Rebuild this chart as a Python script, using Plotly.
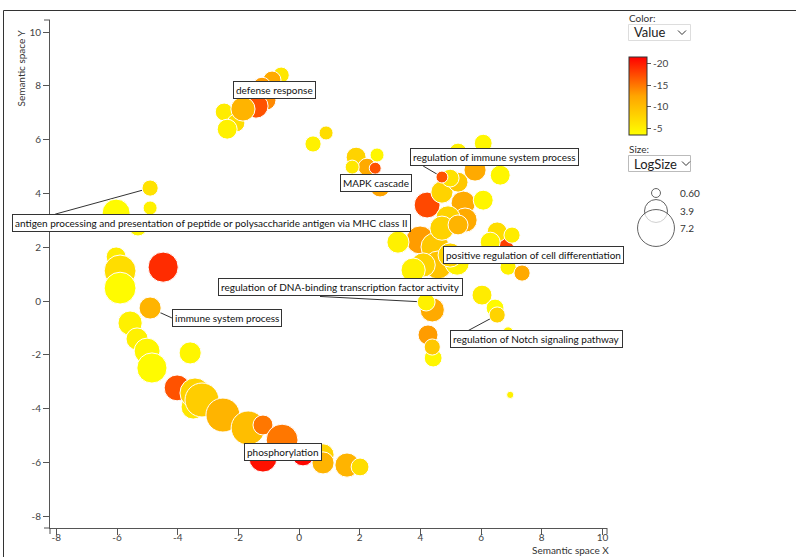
import plotly.graph_objects as go

# ---- GO term bubbles, listed in drawing order ----
# semantic space coordinates, log10 p-value and log size per term
term_x = [-0.59, -0.89, -1.22, -1.09, -1.42, -2.47, -2.08, -2.37, -1.85,
          0.46, 0.89,
          1.88, 2.67, 2.24, 2.57, 1.75, 2.51,
          3.99, 4.48, 4.58, 4.22, 5.41, 5.47, 4.91, 4.09, 5.21, 3.76, 4.98, 4.71,
          6.69, 4.39, 5.80, 4.71, 3.26, 6.63, 5.24, 6.07, 5.24, 6.53, 6.30,
          4.25, 6.03, 5.24, 6.07, 4.98, 4.19, 4.42, 6.46, 7.02, 6.89, 7.35,
          4.39, 6.53, 4.71, 6.89, 6.96,
          -4.91, -4.91, -6.03, -5.31, -6.03, -5.90, -5.90, -4.48, -4.91,
          -5.57, -5.34, -5.01, -4.85, -3.59,
          -4.02, -3.49, -3.43, -3.20, -2.51, -1.68, -1.19, -0.56, -1.19,
          0.13, 0.79, 0.79, 1.58, 2.01]
term_y = [8.40, 8.22, 7.99, 7.47, 7.25, 7.03, 6.62, 6.39, 7.14,
          5.84, 6.25,
          5.35, 4.24, 4.98, 5.43, 4.98, 4.94,
          2.27, 2.01, 1.34, 3.57, 3.64, 3.01, 3.09, 1.34, 1.41, 1.15, 1.71, 2.71,
          1.90, -0.33, 4.87, 4.05, 2.19, 4.68, 4.42, 3.75, 2.83, 2.57, 2.19,
          -1.26, 0.22, 5.54, 5.87, 4.57, -0.04, -2.12, -0.26, 2.45, 1.26, 1.04,
          -1.71, -0.52, 4.61, -1.15, -3.49,
          4.20, 3.46, 3.27, 2.75, 1.64, 1.12, 0.48, 1.26, -0.26,
          -0.82, -1.41, -1.86, -2.49, -1.93,
          -3.23, -3.94, -3.42, -3.68, -4.24, -4.72, -4.61, -5.17, -5.84,
          -5.72, -5.72, -6.02, -6.10, -6.17]
log10_p = [-6.0, -12.0, -13.0, -14.0, -17.0, -5.5, -7.0, -5.0, -11.0,
           -5.0, -7.0,
           -8.0, -12.5, -12.0, -4.5, -6.0, -17.0,
           -13.0, -9.0, -9.5, -17.5, -12.0, -12.0, -8.0, -8.0, -5.0, -5.0, -8.0, -8.0,
           -18.0, -12.0, -12.0, -8.0, -5.0, -4.5, -9.0, -4.5, -11.0, -7.0, -5.0,
           -13.0, -5.5, -5.0, -4.5, -6.5, -5.0, -4.5, -4.0, -5.5, -5.0, -12.0,
           -9.0, -8.0, -17.0, -5.0, -5.0,
           -6.5, -5.0, -4.0, -4.5, -5.5, -7.0, -4.0, -19.0, -11.0,
           -5.0, -5.0, -4.5, -4.0, -4.5,
           -17.0, -6.0, -8.0, -8.5, -11.0, -10.0, -15.0, -15.0, -20.5,
           -21.0, -8.0, -11.0, -11.0, -7.0]
log_size = [2.3, 2.7, 2.7, 3.2, 4.2, 2.7, 2.7, 3.2, 4.2,
            2.3, 1.8,
            3.2, 3.2, 2.7, 1.8, 1.8, 1.3,
            5.1, 5.1, 5.1, 4.6, 4.2, 4.2, 4.2, 4.2, 4.2, 4.2, 4.2, 4.2,
            4.2, 4.2, 3.7, 3.7, 3.7, 3.2, 3.2, 3.2, 3.2, 3.2, 3.2,
            3.2, 3.2, 2.7, 2.7, 2.7, 2.7, 2.7, 2.7, 2.3, 2.3, 2.3,
            2.3, 2.3, 1.3, 0.9, 0.2,
            2.3, 1.8, 5.1, 2.7, 3.2, 6.0, 6.0, 5.6, 3.7,
            4.2, 3.7, 4.6, 5.6, 3.7,
            4.6, 4.2, 5.6, 6.5, 6.5, 6.5, 3.2, 6.0, 5.1,
            3.7, 3.7, 3.7, 4.2, 2.7]

# ---- labelled terms: text, bubble index, box left/centre (data units), leader start ----
label_text = ["defense response",
              "regulation of immune system process",
              "MAPK cascade",
              "antigen processing and presentation of peptide or polysaccharide antigen via MHC class II",
              "positive regulation of cell differentiation",
              "regulation of DNA-binding transcription factor activity",
              "immune system process",
              "regulation of Notch signaling pathway",
              "phosphorylation"]
label_term = [4, 53, 12, 56, 29, 45, 64, 52, 78]
label_box_x = [-2.18, 3.66, 1.35, -9.46, 4.75, -2.67, -4.19, 4.98, -1.81]
label_box_y = [7.84, 5.35, 4.39, 2.90, 1.71, 0.52, -0.63, -1.43, -5.61]
leader_x = [None, 4.09, None, -8.04, None, 0.69, -4.19, 5.54, None]
leader_y = [None, 5.02, None, 3.23, None, 0.17, -0.63, -1.12, None]

# ---- legends ----
color_ticks = [-20, -15, -10, -5]
size_legend = [0.60, 3.9, 7.2]
size_legend_text = ["0.60", "3.9", "7.2"]

# ---- axes ----
x_range = [-8.21, 10.15]
y_range = [-8.44, 10.45]
x_ticks = [-8, -6, -4, -2, 0, 2, 4, 6, 8, 10]
y_ticks = [-8, -6, -4, -2, 0, 2, 4, 6, 8, 10]

W, H = 796, 557
ML, MT, MB = 50, 20, 29
PLOT_W = W - ML
PLOT_H = H - MT - MB
AXIS_W = 557
FONT = "Lato"


def px_x(p):
    return (p - ML) / PLOT_W


def px_y(p):
    return (H - MB - p) / PLOT_H


def data_to_paper_x(v):
    return (v - x_range[0]) / (x_range[1] - x_range[0]) * AXIS_W / PLOT_W


def data_to_paper_y(v):
    return (v - y_range[0]) / (y_range[1] - y_range[0])


def radius(s):
    return 3.2 + 2.12 * s


colorscale = [[0.0, "#FFFF00"], [0.5, "#FFA500"], [1.0, "#FF0000"]]
c_lo, c_hi = 3.6, 21.4

fig = go.Figure()

# leader lines sit underneath the bubbles
lx, ly = [], []
for i in range(len(label_text)):
    if leader_x[i] is None:
        continue
    t = label_term[i]
    lx += [leader_x[i], term_x[t], None]
    ly += [leader_y[i], term_y[t], None]
fig.add_trace(go.Scatter(x=lx, y=ly, mode="lines",
                         line=dict(color="#333333", width=1),
                         hoverinfo="skip", showlegend=False))

# bubbles
fig.add_trace(go.Scatter(
    x=term_x,
    y=term_y,
    mode="markers",
    marker=dict(
        size=[2 * radius(s) for s in log_size],
        sizemode="diameter",
        color=[-v for v in log10_p],
        colorscale=colorscale,
        cmin=c_lo, cmax=c_hi,
        line=dict(color="white", width=1),
        opacity=1,
        colorbar=dict(
            x=px_x(629), xanchor="left", xpad=0,
            y=px_y(57), yanchor="top", ypad=0,
            lenmode="pixels", len=78,
            thicknessmode="pixels", thickness=18,
            outlinecolor="#333333", outlinewidth=1,
            ticks="outside", ticklen=4, tickcolor="#555555",
            tickvals=[-v for v in color_ticks],
            ticktext=[str(v) for v in color_ticks],
            tickfont=dict(family=FONT, size=10, color="#444444"),
        ),
    ),
    hoverinfo="skip", showlegend=False))

# size legend on its own pixel-scaled axes
fig.add_trace(go.Scatter(
    x=[656] * len(size_legend),
    y=[193, 211, 228],
    mode="markers",
    marker=dict(size=[2 * radius(s) for s in size_legend], sizemode="diameter",
                color="white", line=dict(color="#222222", width=1)),
    xaxis="x2", yaxis="y2", hoverinfo="skip", showlegend=False))

annotations = []
for i, txt in enumerate(label_text):
    annotations.append(dict(
        text=txt, xref="paper", yref="paper",
        x=data_to_paper_x(label_box_x[i]), y=data_to_paper_y(label_box_y[i]),
        xanchor="left", yanchor="middle", showarrow=False,
        font=dict(family=FONT, size=10, color="#111111"),
        bgcolor="white", bordercolor="#333333", borderwidth=1, borderpad=2))

for s, txt, yy in zip(size_legend, size_legend_text, [193, 211, 228]):
    annotations.append(dict(text=txt, xref="x2", yref="y2", x=678, y=yy,
                            xanchor="left", yanchor="middle", showarrow=False,
                            font=dict(family=FONT, size=10, color="#333333")))

annotations += [
    dict(text="Color:", xref="paper", yref="paper", x=px_x(627), y=px_y(18),
         xanchor="left", yanchor="middle", showarrow=False,
         font=dict(family=FONT, size=10, color="#333333")),
    dict(text="Size:", xref="paper", yref="paper", x=px_x(627), y=px_y(149),
         xanchor="left", yanchor="middle", showarrow=False,
         font=dict(family=FONT, size=10, color="#333333")),
    dict(text="Value", xref="paper", yref="paper", x=px_x(632), y=px_y(32.5),
         xanchor="left", yanchor="middle", showarrow=False,
         font=dict(family=FONT, size=13, color="#222222")),
    dict(text="LogSize", xref="paper", yref="paper", x=px_x(632), y=px_y(163.5),
         xanchor="left", yanchor="middle", showarrow=False,
         font=dict(family=FONT, size=13, color="#222222")),
    dict(text="Semantic space X", xref="paper", yref="paper", x=px_x(611), y=px_y(550),
         xanchor="right", yanchor="middle", showarrow=False,
         font=dict(family=FONT, size=10, color="#333333")),
    dict(text="Semantic space Y", xref="paper", yref="paper", x=px_x(21), y=px_y(28),
         xanchor="center", yanchor="top", textangle=-90, showarrow=False,
         font=dict(family=FONT, size=10, color="#333333")),
]

shapes = [
    # outer frame
    dict(type="rect", xref="paper", yref="paper",
         x0=px_x(3.5), x1=px_x(900), y0=px_y(10.5), y1=px_y(900),
         line=dict(color="#333333", width=1)),
    # select boxes
    dict(type="rect", xref="paper", yref="paper",
         x0=px_x(628.5), x1=px_x(690.5), y0=px_y(24.5), y1=px_y(40.5),
         line=dict(color="#dddddd", width=1), fillcolor="white"),
    dict(type="rect", xref="paper", yref="paper",
         x0=px_x(628.5), x1=px_x(690.5), y0=px_y(155.5), y1=px_y(171.5),
         line=dict(color="#bbbbbb", width=1), fillcolor="white"),
    # axis end ticks
    dict(type="line", xref="paper", yref="paper", x0=px_x(50), x1=px_x(50),
         y0=px_y(528), y1=px_y(534), line=dict(color="#555555", width=1)),
    dict(type="line", xref="paper", yref="paper", x0=px_x(607), x1=px_x(607),
         y0=px_y(528), y1=px_y(534), line=dict(color="#555555", width=1)),
    dict(type="line", xref="paper", yref="paper", x0=px_x(44), x1=px_x(50),
         y0=px_y(20), y1=px_y(20), line=dict(color="#555555", width=1)),
    dict(type="line", xref="paper", yref="paper", x0=px_x(44), x1=px_x(50),
         y0=px_y(528), y1=px_y(528), line=dict(color="#555555", width=1)),
]


def chevron(x0, y0, w, h):
    return (f"M {px_x(x0)},{px_y(y0)} L {px_x(x0 + w / 2)},{px_y(y0 + h)} "
            f"L {px_x(x0 + w)},{px_y(y0)}")


for cx, cy in [(678, 30.5), (682, 161.5)]:
    shapes.append(dict(type="path", xref="paper", yref="paper",
                       path=chevron(cx, cy, 8, 4),
                       line=dict(color="#333333", width=1)))

axis_common = dict(showline=True, linecolor="#555555", linewidth=1,
                   ticks="outside", ticklen=6, tickcolor="#555555", tickwidth=1,
                   showgrid=False, zeroline=False,
                   tickfont=dict(family=FONT, size=10, color="#444444"))

fig.update_layout(
    width=W, height=H,
    margin=dict(l=ML, r=0, t=MT, b=MB, pad=0),
    paper_bgcolor="white", plot_bgcolor="white",
    xaxis=dict(domain=[0, AXIS_W / PLOT_W], range=x_range,
               tickvals=x_ticks, ticktext=[str(v) for v in x_ticks],
               ticklabelstandoff=-6, **axis_common),
    yaxis=dict(domain=[0, 1], range=y_range,
               tickvals=y_ticks, ticktext=[str(v) for v in y_ticks], **axis_common),
    xaxis2=dict(domain=[px_x(620), 1], range=[620, 796], visible=False,
                anchor="y2", fixedrange=True),
    yaxis2=dict(domain=[px_y(255), px_y(180)], range=[255, 180], visible=False,
                anchor="x2", fixedrange=True),
    annotations=annotations,
    shapes=shapes,
    showlegend=False,
)

fig.write_html("out.html")
